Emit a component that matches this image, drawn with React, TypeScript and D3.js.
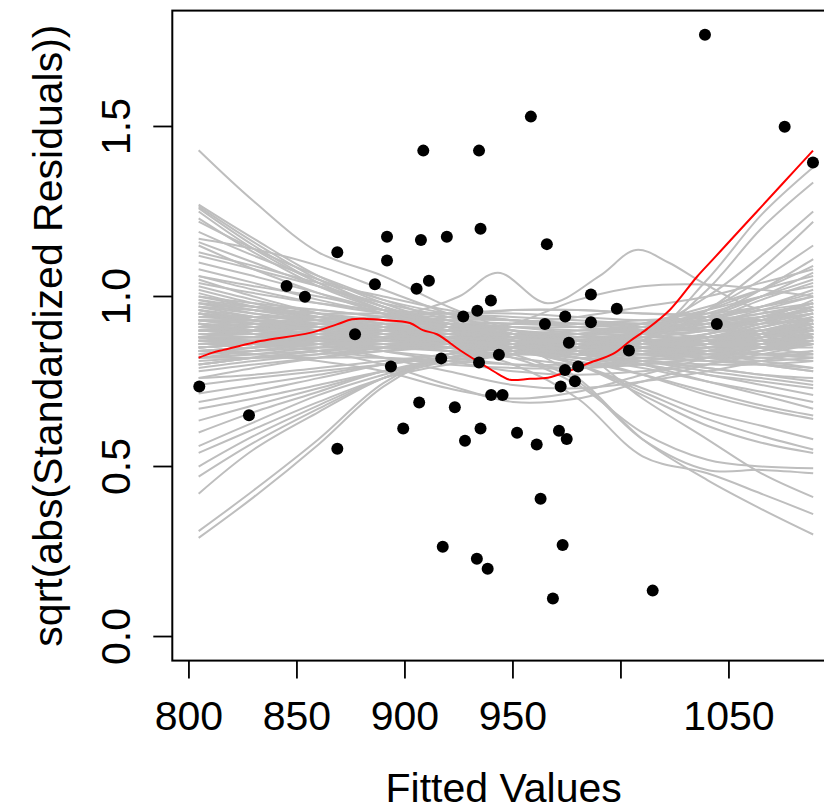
import React from "react";
import * as d3 from "d3";

// ---- Data ----
const fittedX = [804.8, 827.8, 845.2, 853.7, 868.7, 868.7, 876.9, 886.1, 891.7, 891.7, 893.5, 899.2, 905.4, 907.4, 908.5, 911.1, 906.6, 916.8, 917.5, 919.4, 923.1, 927.0, 927.8, 933.5, 933.3, 934.3, 934.3, 935.0, 935.0, 938.3, 939.8, 939.9, 943.5, 945.2, 951.9, 958.3, 961.0, 962.8, 964.8, 965.7, 968.5, 971.3, 972.1, 973.0, 974.1, 974.2, 974.9, 975.9, 978.7, 980.2, 986.1, 986.1, 998.1, 1003.7, 1014.7, 1038.9, 1044.4, 1075.8, 1088.9];
const sqrtAbsRes = [0.735, 0.651, 1.031, 0.999, 1.130, 0.552, 0.889, 1.036, 1.176, 1.106, 0.794, 0.612, 1.023, 1.166, 1.429, 1.046, 0.688, 0.818, 0.264, 1.176, 0.674, 0.941, 0.576, 0.958, 0.229, 1.429, 0.806, 1.199, 0.612, 0.199, 0.988, 0.710, 0.829, 0.710, 0.599, 1.529, 0.565, 0.405, 0.919, 1.154, 0.112, 0.605, 0.735, 0.269, 0.784, 0.941, 0.581, 0.864, 0.751, 0.794, 1.006, 0.924, 0.964, 0.841, 0.135, 1.770, 0.919, 1.499, 1.394];

const redX = [804.5, 811, 816, 833, 856, 868.5, 875.5, 882.4, 889.8, 902.3, 908.3, 914.8, 925.5, 938, 944, 948.6, 957.9, 966.2, 976.4, 985.6, 996.3, 1004.2, 1012, 1022.7, 1035.2, 1042.6, 1053.7, 1063, 1075, 1088.9];
const redY = [0.82, 0.835, 0.843, 0.869, 0.893, 0.918, 0.933, 0.934, 0.931, 0.922, 0.901, 0.889, 0.842, 0.792, 0.769, 0.755, 0.758, 0.761, 0.782, 0.805, 0.831, 0.869, 0.904, 0.961, 1.058, 1.109, 1.186, 1.25, 1.333, 1.429];

const simKnots = [804.5, 830, 860, 890, 920, 950, 980, 1010, 1040, 1065, 1089];
const simLines = [
  // dense band
  [0.98,0.95,0.92,0.90,0.88,0.86,0.85,0.86,0.88,0.90,0.92],
  [1.02,0.98,0.94,0.91,0.89,0.87,0.86,0.86,0.87,0.89,0.91],
  [0.90,0.89,0.88,0.88,0.87,0.86,0.86,0.87,0.88,0.89,0.90],
  [0.85,0.86,0.87,0.88,0.88,0.87,0.86,0.85,0.84,0.83,0.82],
  [0.95,0.93,0.91,0.90,0.88,0.85,0.83,0.83,0.85,0.88,0.92],
  [0.88,0.88,0.89,0.90,0.90,0.88,0.85,0.84,0.85,0.87,0.89],
  [0.92,0.91,0.90,0.89,0.87,0.84,0.82,0.82,0.84,0.87,0.91],
  [0.80,0.82,0.84,0.86,0.87,0.87,0.87,0.88,0.90,0.93,0.96],
  [0.83,0.84,0.86,0.87,0.87,0.86,0.85,0.86,0.89,0.93,0.97],
  [1.05,1.00,0.95,0.91,0.88,0.86,0.85,0.85,0.86,0.87,0.88],
  [0.97,0.95,0.93,0.91,0.89,0.88,0.88,0.89,0.91,0.94,0.98],
  [0.86,0.87,0.88,0.89,0.89,0.88,0.86,0.84,0.82,0.80,0.78],
  [0.93,0.92,0.91,0.90,0.89,0.87,0.85,0.83,0.81,0.80,0.79],
  [0.99,0.96,0.93,0.90,0.87,0.84,0.83,0.84,0.86,0.89,0.93],
  [0.82,0.83,0.85,0.86,0.86,0.85,0.84,0.85,0.87,0.90,0.94],
  [0.89,0.89,0.89,0.88,0.87,0.85,0.84,0.84,0.85,0.86,0.87],
  [0.94,0.93,0.92,0.91,0.90,0.89,0.88,0.88,0.88,0.89,0.90],
  [1.00,0.97,0.94,0.92,0.90,0.89,0.89,0.90,0.93,0.97,1.02],
  [0.87,0.88,0.89,0.91,0.92,0.91,0.89,0.86,0.84,0.83,0.83],
  [0.91,0.90,0.89,0.88,0.86,0.84,0.82,0.81,0.80,0.80,0.81],
  [0.84,0.85,0.86,0.87,0.88,0.89,0.90,0.91,0.92,0.94,0.96],
  [0.96,0.94,0.91,0.88,0.85,0.82,0.80,0.80,0.82,0.85,0.89],
  [0.88,0.87,0.86,0.86,0.86,0.86,0.87,0.89,0.92,0.96,1.00],
  [1.03,0.99,0.95,0.92,0.90,0.88,0.86,0.84,0.83,0.83,0.84],
  [0.79,0.81,0.83,0.85,0.87,0.88,0.88,0.87,0.86,0.86,0.87],
  [0.92,0.90,0.88,0.87,0.87,0.88,0.89,0.90,0.90,0.90,0.90],
  [0.86,0.86,0.86,0.86,0.85,0.84,0.83,0.83,0.84,0.86,0.89],
  [0.98,0.96,0.94,0.92,0.90,0.87,0.84,0.82,0.81,0.81,0.82],
  [0.90,0.91,0.92,0.93,0.92,0.89,0.86,0.84,0.84,0.85,0.87],
  [0.81,0.82,0.83,0.84,0.85,0.85,0.85,0.86,0.88,0.91,0.95],
  [0.95,0.94,0.93,0.91,0.88,0.85,0.83,0.83,0.85,0.88,0.91],
  [1.01,0.97,0.93,0.89,0.87,0.86,0.87,0.89,0.92,0.95,0.98],
  [0.85,0.86,0.88,0.90,0.91,0.90,0.87,0.85,0.85,0.86,0.88],
  [0.93,0.93,0.92,0.90,0.88,0.86,0.85,0.85,0.86,0.88,0.90],
  [0.78,0.80,0.82,0.84,0.86,0.87,0.87,0.87,0.87,0.87,0.87],
  [0.87,0.87,0.87,0.87,0.87,0.86,0.85,0.85,0.86,0.88,0.91],
  [0.99,0.97,0.95,0.93,0.91,0.89,0.87,0.86,0.86,0.87,0.89],
  [0.84,0.84,0.85,0.86,0.86,0.85,0.83,0.81,0.79,0.77,0.76],
  [0.96,0.93,0.90,0.88,0.86,0.86,0.87,0.89,0.91,0.93,0.95],
  [0.89,0.88,0.87,0.86,0.84,0.83,0.83,0.85,0.88,0.92,0.97],
  [0.91,0.92,0.93,0.94,0.95,0.95,0.94,0.93,0.93,0.94,0.96],
  [0.97,0.96,0.95,0.95,0.95,0.96,0.96,0.95,0.94,0.93,0.92],
  [0.83,0.85,0.88,0.91,0.94,0.96,0.96,0.95,0.95,0.97,1.00],
  [1.04,1.01,0.98,0.96,0.95,0.94,0.93,0.92,0.92,0.93,0.95],
  [0.94,0.94,0.94,0.93,0.92,0.91,0.91,0.92,0.94,0.97,1.01],
  [0.88,0.90,0.92,0.94,0.94,0.93,0.91,0.90,0.91,0.94,0.98],
  [1.00,0.98,0.96,0.94,0.92,0.91,0.90,0.90,0.91,0.92,0.93],
  [0.76,0.79,0.82,0.85,0.86,0.86,0.85,0.84,0.84,0.85,0.86],
  [0.92,0.90,0.87,0.84,0.82,0.80,0.79,0.80,0.82,0.84,0.86],
  [0.87,0.86,0.84,0.82,0.80,0.79,0.79,0.81,0.84,0.88,0.92],
  [0.95,0.92,0.88,0.84,0.81,0.78,0.77,0.78,0.80,0.83,0.86],
  [0.82,0.82,0.82,0.82,0.81,0.80,0.80,0.81,0.83,0.85,0.88],
  [0.90,0.90,0.91,0.92,0.93,0.93,0.92,0.90,0.88,0.87,0.86],
  [0.98,0.97,0.96,0.94,0.92,0.90,0.89,0.89,0.90,0.93,0.96],
  [0.86,0.87,0.89,0.91,0.92,0.92,0.91,0.89,0.87,0.85,0.83],
  [1.06,1.02,0.98,0.95,0.93,0.92,0.92,0.93,0.94,0.96,0.98],
  [0.93,0.92,0.90,0.88,0.86,0.85,0.85,0.86,0.89,0.93,0.99],
  [0.89,0.89,0.90,0.91,0.91,0.90,0.88,0.87,0.87,0.89,0.92],
  // high on the left
  [1.43,1.28,1.13,1.06,0.97,0.90,0.86,0.86,0.88,0.90,0.92],
  [1.27,1.17,1.06,0.98,0.92,0.88,0.86,0.85,0.85,0.85,0.85],
  [1.265,1.16,1.05,0.97,0.91,0.87,0.85,0.85,0.86,0.88,0.90],
  [1.26,1.15,1.04,0.96,0.90,0.86,0.84,0.84,0.86,0.89,0.93],
  [1.25,1.14,1.04,0.97,0.91,0.87,0.85,0.84,0.83,0.82,0.81],
  [1.23,1.13,1.03,0.96,0.91,0.88,0.86,0.86,0.87,0.88,0.89],
  [1.22,1.14,1.06,0.99,0.93,0.88,0.84,0.81,0.78,0.76,0.74],
  [1.17,1.14,1.09,1.02,0.95,0.89,0.85,0.83,0.82,0.82,0.83],
  [1.16,1.10,1.03,0.97,0.92,0.88,0.86,0.86,0.87,0.88,0.89],
  [1.15,1.08,1.01,0.95,0.90,0.87,0.86,0.87,0.89,0.92,0.95],
  [1.12,1.08,1.03,0.98,0.94,0.90,0.87,0.85,0.83,0.81,0.79],
  [1.10,1.06,1.01,0.96,0.91,0.87,0.84,0.83,0.83,0.84,0.86],
  [1.08,1.04,0.99,0.95,0.91,0.88,0.87,0.87,0.88,0.90,0.92],
  [1.06,1.03,1.00,0.96,0.92,0.89,0.86,0.84,0.82,0.80,0.78],
  [1.13,1.09,1.04,1.00,0.96,0.93,0.92,0.92,0.93,0.95,0.97],
  [1.19,1.12,1.05,0.99,0.95,0.93,0.92,0.91,0.90,0.89,0.88],
  // low on the left
  [0.29,0.41,0.565,0.735,0.83,0.86,0.87,0.88,0.90,0.93,0.96],
  [0.31,0.43,0.58,0.745,0.83,0.85,0.86,0.86,0.86,0.86,0.86],
  [0.42,0.55,0.66,0.76,0.82,0.85,0.87,0.87,0.87,0.88,0.89],
  [0.47,0.57,0.67,0.76,0.82,0.85,0.86,0.85,0.84,0.83,0.82],
  [0.50,0.59,0.68,0.76,0.81,0.84,0.85,0.86,0.88,0.91,0.94],
  [0.54,0.61,0.69,0.76,0.80,0.83,0.84,0.85,0.87,0.90,0.93],
  [0.56,0.63,0.71,0.77,0.82,0.84,0.85,0.85,0.86,0.87,0.88],
  [0.60,0.66,0.72,0.78,0.81,0.83,0.84,0.84,0.85,0.86,0.87],
  [0.635,0.68,0.73,0.78,0.82,0.84,0.85,0.86,0.88,0.91,0.94],
  [0.67,0.70,0.74,0.78,0.81,0.83,0.84,0.85,0.86,0.88,0.90],
  [0.69,0.72,0.76,0.80,0.83,0.85,0.86,0.87,0.88,0.89,0.90],
  [0.715,0.74,0.77,0.80,0.82,0.84,0.85,0.86,0.88,0.90,0.92],
  [0.74,0.76,0.78,0.80,0.82,0.83,0.84,0.85,0.87,0.89,0.91],
  [0.76,0.77,0.79,0.81,0.83,0.85,0.86,0.86,0.86,0.86,0.86],
  // high on the right
  [0.86,0.86,0.86,0.86,0.86,0.85,0.85,0.87,1.05,1.24,1.38],
  [0.88,0.87,0.86,0.85,0.84,0.83,0.84,0.87,1.02,1.20,1.335],
  [0.90,0.89,0.88,0.87,0.86,0.85,0.86,0.90,1.00,1.12,1.25],
  [0.84,0.85,0.86,0.86,0.85,0.84,0.84,0.87,0.96,1.08,1.22],
  [0.95,0.92,0.90,0.88,0.86,0.85,0.86,0.89,0.96,1.05,1.15],
  [0.82,0.84,0.86,0.87,0.87,0.86,0.86,0.88,0.94,1.02,1.11],
  [0.92,0.91,0.89,0.88,0.87,0.86,0.87,0.90,0.96,1.02,1.09],
  [0.80,0.82,0.84,0.85,0.86,0.86,0.87,0.89,0.94,1.00,1.07],
  [0.87,0.86,0.85,0.85,0.85,0.86,0.88,0.92,0.97,1.02,1.06],
  [0.93,0.91,0.89,0.88,0.87,0.87,0.88,0.91,0.95,1.00,1.05],
  [0.85,0.86,0.87,0.88,0.88,0.87,0.87,0.89,0.93,0.99,1.04],
  [0.97,0.94,0.91,0.89,0.88,0.88,0.89,0.92,0.96,1.00,1.03],
  [0.85,0.86,0.87,0.88,0.89,0.92,0.99,1.03,1.035,1.02,1.00],
  [0.91,0.90,0.89,0.89,0.90,0.92,0.94,0.97,1.00,1.04,1.08],
  // low on the right
  [0.90,0.89,0.88,0.88,0.88,0.86,0.76,0.58,0.46,0.375,0.30],
  [0.86,0.86,0.86,0.86,0.85,0.80,0.70,0.53,0.48,0.42,0.36],
  [0.88,0.88,0.88,0.88,0.88,0.87,0.84,0.70,0.58,0.48,0.41],
  [0.84,0.85,0.86,0.87,0.86,0.83,0.75,0.58,0.49,0.49,0.48],
  [0.92,0.90,0.88,0.86,0.84,0.82,0.74,0.60,0.52,0.50,0.495],
  [0.95,0.93,0.91,0.89,0.87,0.85,0.80,0.71,0.62,0.57,0.54],
  [0.82,0.83,0.84,0.85,0.85,0.84,0.80,0.72,0.64,0.59,0.55],
  [0.87,0.87,0.87,0.87,0.86,0.84,0.80,0.73,0.66,0.62,0.58],
  [0.90,0.89,0.88,0.87,0.86,0.85,0.82,0.77,0.71,0.67,0.64],
  [0.85,0.86,0.87,0.87,0.86,0.84,0.81,0.77,0.72,0.68,0.65],
  [0.93,0.91,0.89,0.88,0.87,0.86,0.84,0.80,0.75,0.71,0.67],
  [0.88,0.88,0.88,0.87,0.86,0.84,0.82,0.79,0.75,0.72,0.69],
  [0.80,0.82,0.84,0.85,0.86,0.85,0.83,0.80,0.77,0.74,0.71],
  [0.96,0.93,0.90,0.88,0.86,0.84,0.82,0.80,0.77,0.75,0.73],
  [0.86,0.86,0.86,0.86,0.86,0.85,0.83,0.81,0.79,0.77,0.75],
  // dip in the middle
  [0.88,0.86,0.84,0.80,0.74,0.69,0.70,0.75,0.80,0.84,0.87],
  [0.84,0.83,0.81,0.78,0.73,0.70,0.72,0.77,0.82,0.86,0.90],
  [0.92,0.89,0.86,0.82,0.78,0.74,0.73,0.75,0.78,0.81,0.84],
];
const humpX = [804.5, 850, 900, 925, 943, 966, 990, 1007, 1022, 1038, 1060, 1089];
const humpY = [0.93, 0.93, 0.95, 1.00, 1.07, 0.98, 1.06, 1.137, 1.10, 1.04, 0.97, 0.93];

const xTicks = [800, 850, 900, 950, 1000, 1050];
const xTickLabels = ["800", "850", "900", "950", "", "1050"];
const yTicks = [0, 0.5, 1.0, 1.5];
const yTickLabels = ["0.0", "0.5", "1.0", "1.5"];

const xTitle = "Fitted Values";
const yTitle = "sqrt(abs(Standardized Residuals))";

// ---- Layout ----
const W = 824, H = 811;
const left = 172.3, right = 835, top = 10.6, bottom = 660.6;
const FONT = "'Liberation Sans', Arial, Helvetica, sans-serif";
const FS = 41;

export default function App() {
  const x = d3.scaleLinear().domain([792.3, 1099.1]).range([left, right]);
  const y = d3.scaleLinear().domain([-0.0708, 1.8408]).range([bottom, top]);

  const line = d3
    .line<[number, number]>()
    .x((d) => x(d[0]))
    .y((d) => y(d[1]))
    .curve(d3.curveCatmullRom.alpha(0.5));

  const grayPaths = simLines.map((vals) =>
    line(vals.map((v, i) => [simKnots[i], v] as [number, number]))
  );
  grayPaths.push(line(humpY.map((v, i) => [humpX[i], v] as [number, number])));
  const redPath = line(redY.map((v, i) => [redX[i], v] as [number, number]));

  return (
    <div style={{ position: "absolute", left: 0, top: 0 }}>
      <svg width={W} height={H} style={{ display: "block", background: "#fff" }}>
        <defs>
          <clipPath id="plotclip">
            <rect x={left} y={top} width={right - left} height={bottom - top} />
          </clipPath>
        </defs>
        <g clipPath="url(#plotclip)">
          {grayPaths.map((p, i) => (
            <path key={i} d={p || ""} fill="none" stroke="#BEBEBE" strokeWidth={2} />
          ))}
          <path d={redPath || ""} fill="none" stroke="#FF0000" strokeWidth={2} />
          {fittedX.map((fx, i) => (
            <circle key={i} cx={x(fx)} cy={y(sqrtAbsRes[i])} r={6} fill="#000" />
          ))}
        </g>
        <rect x={left} y={top} width={right - left} height={bottom - top} fill="none" stroke="#000" strokeWidth={2} />
        {/* x axis */}
        {xTicks.map((t, i) => (
          <g key={"xt" + i}>
            <line x1={x(t)} x2={x(t)} y1={bottom} y2={bottom + 18} stroke="#000" strokeWidth={1.8} />
            <text x={x(t)} y={730} textAnchor="middle" fontFamily={FONT} fontSize={FS} fill="#000">
              {xTickLabels[i]}
            </text>
          </g>
        ))}
        {/* y axis */}
        {yTicks.map((t, i) => (
          <g key={"yt" + i}>
            <line x1={left} x2={left - 19} y1={y(t)} y2={y(t)} stroke="#000" strokeWidth={1.8} />
            <text
              transform={`translate(130,${y(t)}) rotate(-90)`}
              textAnchor="middle"
              fontFamily={FONT}
              fontSize={FS}
              fill="#000"
            >
              {yTickLabels[i]}
            </text>
          </g>
        ))}
        <text x={(left + right) / 2} y={802} textAnchor="middle" fontFamily={FONT} fontSize={FS} fill="#000">
          {xTitle}
        </text>
        <text
          transform={`translate(62,${(top + bottom) / 2}) rotate(-90)`}
          textAnchor="middle"
          fontFamily={FONT}
          fontSize={FS}
          fill="#000"
        >
          {yTitle}
        </text>
      </svg>
    </div>
  );
}
